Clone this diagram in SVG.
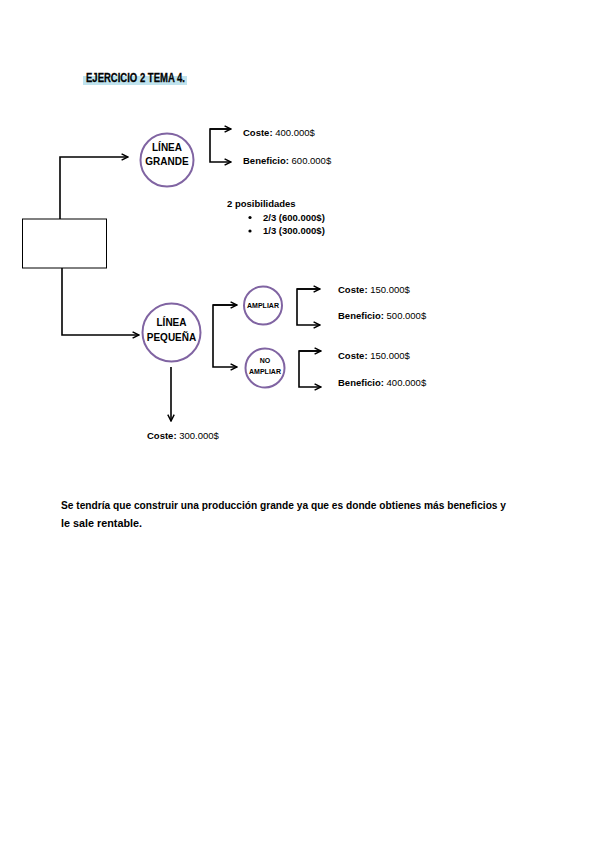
<svg xmlns="http://www.w3.org/2000/svg" width="599" height="848" viewBox="0 0 599 848">
<style>
.node{fill:#fff;stroke:#8064a2;stroke-width:2}
.ln{fill:none;stroke:#000;stroke-width:1.6}
.t{font-family:"Liberation Sans",Arial,sans-serif;font-weight:bold;fill:#000}
.lbl{font-size:9.5px}
.c{text-anchor:middle}
</style>
<defs>
<marker id="ah" viewBox="0 0 10 10" refX="9" refY="5" markerWidth="8" markerHeight="8" markerUnits="userSpaceOnUse" orient="auto">
<path d="M1,1 L9,5 L1,9" fill="none" stroke="#000" stroke-width="1.8"/>
</marker>
</defs>
<rect width="599" height="848" fill="#fff"/>
<g id="title">
<rect x="83" y="76" width="104" height="9" fill="#bfe3ee"/>
<text x="86" y="81.5" class="t" font-size="12.5" textLength="99" lengthAdjust="spacingAndGlyphs" fill="#111" stroke="#111" stroke-width="0.3">EJERCICIO 2 TEMA 4.</text>
</g>
<g id="connectors">
<path class="ln" d="M60,219 V157 H128" marker-end="url(#ah)"/>
<path class="ln" d="M62,268 V335 H139" marker-end="url(#ah)"/>
<path class="ln" d="M231,129 H210 V162 H231" marker-end="url(#ah)"/>
<path class="ln" d="M210,129 H231" marker-end="url(#ah)"/>
<path class="ln" d="M237,305 H213 V367 H237" marker-end="url(#ah)"/>
<path class="ln" d="M213,305 H237" marker-end="url(#ah)"/>
<path class="ln" d="M320,289 H297 V325 H320" marker-end="url(#ah)"/>
<path class="ln" d="M297,289 H320" marker-end="url(#ah)"/>
<path class="ln" d="M321,351 H299 V387 H321" marker-end="url(#ah)"/>
<path class="ln" d="M299,351 H321" marker-end="url(#ah)"/>
<path class="ln" d="M171,367 V421" marker-end="url(#ah)"/>
</g>
<g id="box">
<rect x="22.5" y="219" width="84" height="49" fill="#fff" stroke="#000" stroke-width="1"/>
</g>
<g id="linea-grande">
<circle class="node" cx="167" cy="160" r="26.5"/>
<text class="t c" x="167" y="151" font-size="10">LÍNEA</text>
<text class="t c" x="167" y="165" font-size="10">GRANDE</text>
</g>
<g id="linea-pequena">
<circle class="node" cx="171.5" cy="332.5" r="29"/>
<text class="t c" x="171.5" y="326" font-size="10">LÍNEA</text>
<text class="t c" x="171.5" y="341" font-size="10">PEQUEÑA</text>
</g>
<g id="ampliar">
<circle class="node" cx="263" cy="305.5" r="19"/>
<text class="t c" x="263" y="308" font-size="7">AMPLIAR</text>
</g>
<g id="no-ampliar">
<circle class="node" cx="265" cy="368" r="19.5"/>
<text class="t c" x="265" y="363" font-size="7">NO</text>
<text class="t c" x="265" y="374" font-size="7">AMPLIAR</text>
</g>
<g id="labels">
<text class="t lbl" x="243" y="136">Coste:  <tspan font-weight="normal">400.000$</tspan></text>
<text class="t lbl" x="243" y="164">Beneficio:  <tspan font-weight="normal">600.000$</tspan></text>
<text class="t lbl" x="227" y="207">2 posibilidades</text>
<circle cx="250" cy="217.5" r="1.6" fill="#000"/>
<circle cx="250" cy="231" r="1.6" fill="#000"/>
<text class="t lbl" x="263" y="221">2/3 (600.000$)</text>
<text class="t lbl" x="263" y="234">1/3 (300.000$)</text>
<text class="t lbl" x="338" y="292.5">Coste: <tspan font-weight="normal">150.000$</tspan></text>
<text class="t lbl" x="338" y="319">Beneficio: <tspan font-weight="normal">500.000$</tspan></text>
<text class="t lbl" x="338" y="359">Coste: <tspan font-weight="normal">150.000$</tspan></text>
<text class="t lbl" x="338" y="386">Beneficio: <tspan font-weight="normal">400.000$</tspan></text>
<text class="t lbl" x="147" y="439">Coste: <tspan font-weight="normal">300.000$</tspan></text>
</g>
<g id="conclusion">
<text class="t" x="61" y="509" font-size="10.5" textLength="445" lengthAdjust="spacingAndGlyphs">Se tendría que construir una producción grande ya que es donde obtienes más beneficios y</text>
<text class="t" x="61" y="526.5" font-size="10.5" textLength="81" lengthAdjust="spacingAndGlyphs">le sale rentable.</text>
</g>
</svg>
